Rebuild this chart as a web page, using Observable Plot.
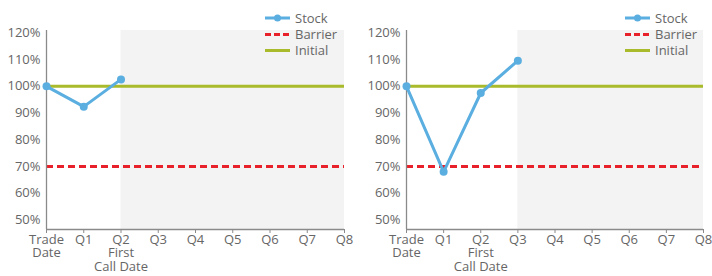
<!DOCTYPE html>
<html>
<head>
<meta charset="utf-8">
<script src="https://cdn.jsdelivr.net/npm/d3@7"></script>
<script src="https://cdn.jsdelivr.net/npm/@observablehq/plot@0.6"></script>
<style>
  html, body { margin: 0; padding: 0; background: #fff; }
  #wrap { display: flex; width: 712px; height: 276px; }
  .panel { position: relative; width: 356px; height: 276px; }
  .legend { position: absolute; top: 0; left: 0; pointer-events: none; }
  .legend text { font-family: "Open Sans", sans-serif; font-size: 13px; fill: #666; }
</style>
</head>
<body>
<div id="wrap"></div>
<script>
// ---- data ----
const quarterLabels = ["Trade\nDate", "Q1", "Q2\nFirst\nCall Date", "Q3", "Q4", "Q5", "Q6", "Q7", "Q8"];
const yTicks = [0.5, 0.6, 0.7, 0.8, 0.9, 1.0, 1.1, 1.2];
const stockLeft = [1.0, 0.924, 1.026];
const stockRight = [1.0, 0.68, 0.975, 1.096];
const barrierLevel = 0.70;
const initialLevel = 1.0;
const shadeStartLeft = 2;
const shadeStartRight = 3;
const lastQuarter = 8;
const seriesNames = ["Stock", "Barrier", "Initial"];

const colors = { stock: "#5aaee0", barrier: "#e8202a", initial: "#a9bb2a", shade: "#f3f3f3", axis: "#8a8a8a", text: "#666" };

function makeChart(stock, shadeStart, marginLeft, marginRight, legendX) {
  const pts = stock.map((v, i) => ({ i, v }));
  const chart = Plot.plot({
    width: 356,
    height: 276,
    marginLeft,
    marginRight,
    marginTop: 30,
    marginBottom: 47,
    style: { fontFamily: "'Open Sans', sans-serif", fontSize: "13px", color: colors.text, background: "transparent" },
    x: { domain: [0, lastQuarter] },
    y: { domain: [0.464, 1.209] },
    marks: [
      Plot.rect([{ x1: shadeStart, x2: lastQuarter }], { x1: "x1", x2: "x2", fill: colors.shade }),
      Plot.ruleY([barrierLevel], { stroke: colors.barrier, strokeWidth: 3, strokeDasharray: "7,4" }),
      Plot.ruleY([initialLevel], { stroke: colors.initial, strokeWidth: 3 }),
      Plot.ruleX([0], { stroke: colors.axis, strokeWidth: 1.3 }),
      Plot.ruleY([0.464], { stroke: colors.axis, strokeWidth: 1.3 }),
      Plot.axisY(yTicks, { tickSize: 0, tickPadding: 6, tickFormat: d3.format(".0%"), color: colors.text, label: null }),
      Plot.axisX(d3.range(0, lastQuarter + 1), { tickSize: 4, tickPadding: 1, tickFormat: i => quarterLabels[i], color: colors.axis, fill: colors.text, lineHeight: 1.03, label: null }),
      Plot.line(pts, { x: "i", y: "v", stroke: colors.stock, strokeWidth: 3 }),
      Plot.dot(pts, { x: "i", y: "v", r: 4, fill: colors.stock })
    ]
  });
  const panel = document.createElement("div");
  panel.className = "panel";
  panel.appendChild(chart);

  // legend overlay
  const ns = "http://www.w3.org/2000/svg";
  const lg = document.createElementNS(ns, "svg");
  lg.setAttribute("class", "legend");
  lg.setAttribute("width", 356);
  lg.setAttribute("height", 60);
  const rowsY = [18, 34.5, 50.5];
  seriesNames.forEach((name, k) => {
    const y = rowsY[k];
    const line = document.createElementNS(ns, "line");
    line.setAttribute("x1", legendX);
    line.setAttribute("x2", legendX + 25);
    line.setAttribute("y1", y);
    line.setAttribute("y2", y);
    line.setAttribute("stroke-width", 3);
    const c = k === 0 ? colors.stock : k === 1 ? colors.barrier : colors.initial;
    line.setAttribute("stroke", c);
    if (k === 1) line.setAttribute("stroke-dasharray", "6,3");
    lg.appendChild(line);
    if (k === 0) {
      const dot = document.createElementNS(ns, "circle");
      dot.setAttribute("cx", legendX + 12.5);
      dot.setAttribute("cy", y);
      dot.setAttribute("r", 3.5);
      dot.setAttribute("fill", c);
      lg.appendChild(dot);
    }
    const t = document.createElementNS(ns, "text");
    t.setAttribute("x", legendX + 30);
    t.setAttribute("y", y);
    t.setAttribute("dy", "0.35em");
    t.textContent = name;
    lg.appendChild(t);
  });
  panel.appendChild(lg);
  return panel;
}

const wrap = document.getElementById("wrap");
wrap.appendChild(makeChart(stockLeft, shadeStartLeft, 46, 12, 265));
wrap.appendChild(makeChart(stockRight, shadeStartRight, 50, 9, 269));
</script>
</body>
</html>
